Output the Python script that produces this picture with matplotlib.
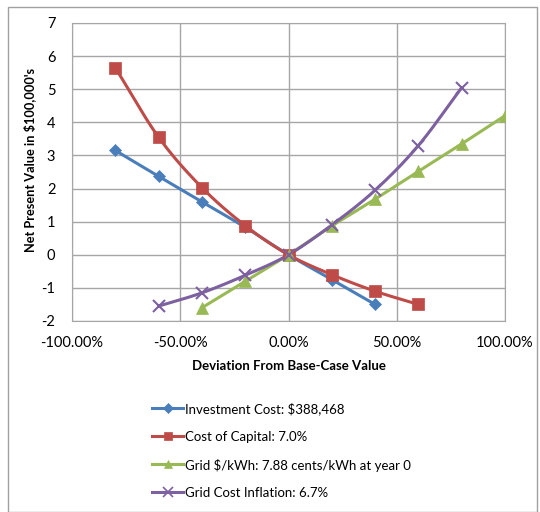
import numpy as np
import matplotlib
matplotlib.use("Agg")
import matplotlib.pyplot as plt
from matplotlib.patches import Rectangle
from matplotlib.lines import Line2D

plt.rcParams['font.family'] = ['Lato', 'DejaVu Sans']
plt.rcParams['axes.unicode_minus'] = False

# Data (x in %)
inv_x = [-80, -60, -40, -20, 0, 20, 40]
inv_y = [3.15, 2.37, 1.6, 0.83, 0.0, -0.75, -1.5]
cap_x = [-80, -60, -40, -20, 0, 20, 40, 60]
cap_y = [5.65, 3.55, 2.03, 0.88, 0.0, -0.6, -1.1, -1.5]
grid_x = [-40, -20, 0, 20, 40, 60, 80, 100]
grid_y = [-1.6, -0.8, 0.0, 0.87, 1.68, 2.52, 3.35, 4.2]
infl_x = [-60, -40, -20, 0, 20, 40, 60, 80]
infl_y = [-1.55, -1.15, -0.62, 0.0, 0.9, 1.95, 3.3, 5.05]

labels = ["Investment Cost: $388,468", "Cost of Capital: 7.0%",
          "Grid $/kWh: 7.88 cents/kWh at year 0", "Grid Cost Inflation: 6.7%"]
colors = ["#4a7ebb", "#be4b48", "#98b954", "#7d60a0"]
markers = ["D", "s", "^", "x"]
msizes = [6, 8, 8, 9]

def smooth(x, y, n=20):
    x = np.asarray(x, float); y = np.asarray(y, float)
    px = np.concatenate([[2*x[0]-x[1]], x, [2*x[-1]-x[-2]]])
    py = np.concatenate([[2*y[0]-y[1]], y, [2*y[-1]-y[-2]]])
    ox, oy = [], []
    for i in range(1, len(px)-2):
        t = np.linspace(0, 1, n, endpoint=False)
        for arr, out in ((px, ox), (py, oy)):
            p0, p1, p2, p3 = arr[i-1], arr[i], arr[i+1], arr[i+2]
            out.extend(0.5*((2*p1) + (-p0+p2)*t + (2*p0-5*p1+4*p2-p3)*t**2 + (-p0+3*p1-3*p2+p3)*t**3))
    ox.append(x[-1]); oy.append(y[-1])
    return np.array(ox), np.array(oy)

W, H = 540, 512
fig = plt.figure(figsize=(W/100, H/100), dpi=100)
fig.patches.append(Rectangle((8/W, 0), (537-8)/W, 1-7/H, transform=fig.transFigure,
                             fill=False, edgecolor="#a0a0a0", linewidth=1))
L, R, T, B = 72, 505, 23, 321
ax = fig.add_axes([L/W, 1-B/H, (R-L)/W, (B-T)/H])

series = [(inv_x, inv_y), (cap_x, cap_y), (grid_x, grid_y), (infl_x, infl_y)]
for (x, y), c, m, ms in zip(series, colors, markers, msizes):
    sx, sy = smooth(x, y)
    ax.plot(sx, sy, color=c, lw=2.2, solid_capstyle='round', zorder=3)
    ax.plot(x, y, linestyle='none', marker=m, color=c, markersize=ms,
            markeredgewidth=1.5 if m == 'x' else 0.5, zorder=4)

ax.set_xlim(-100, 100)
ax.set_ylim(-2, 7)
ax.set_xticks([-100, -50, 0, 50, 100])
ax.set_xticklabels(["-100.00%", "-50.00%", "0.00%", "50.00%", "100.00%"])
ax.set_yticks(range(-2, 8))
ax.grid(True, color="#a6a6a6", lw=1)
ax.set_axisbelow(True)
for s in ax.spines.values():
    s.set_color("#a6a6a6")
ax.tick_params(length=0, labelsize=10.5, colors="#000000")
ax.tick_params(axis='x', pad=11)
ax.tick_params(axis='y', pad=12)
ax.set_xlabel("Deviation From Base-Case Value", fontsize=9.5, fontweight='bold', labelpad=7)
ax.set_ylabel("Net Present Value in $100,000's", fontsize=9.2, fontweight='bold', labelpad=4)
ax.yaxis.label.set_y((B - 160) / (B - T))

# Legend drawn manually for exact placement
rows_y = [408, 436, 464, 492]
for c, m, ms, lab, ry in zip(colors, markers, msizes, labels, rows_y):
    fy = 1 - ry / H
    fig.add_artist(Line2D([152/W, 183/W], [fy, fy], transform=fig.transFigure,
                          color=c, lw=2.2))
    fig.add_artist(Line2D([167.5/W], [fy], transform=fig.transFigure, color=c,
                          marker=m, markersize=ms*0.8, linestyle='none',
                          markeredgewidth=1.2 if m == 'x' else 0.5))
    fig.text(185/W, fy, lab, fontsize=9.5, va='center_baseline', ha='left')

fig.savefig("out.png", dpi=100)
